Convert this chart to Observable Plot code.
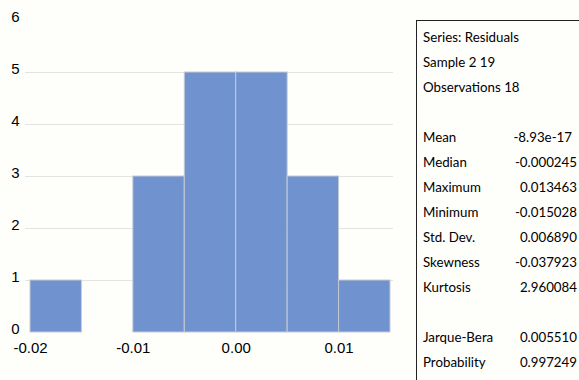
<!DOCTYPE html>
<html>
<head>
<meta charset="utf-8">
<script src="https://cdn.jsdelivr.net/npm/d3@7"></script>
<script src="https://cdn.jsdelivr.net/npm/@observablehq/plot@0.6"></script>
<style>
  html, body { margin: 0; padding: 0; background: #fefefb; overflow: hidden; }
  #wrap { position: relative; width: 579px; height: 380px; }
  #stats {
    position: absolute; left: 416px; top: 20px; width: 162px; height: 360px;
    border-left: 1px solid #222; border-top: 1px solid #222;
    padding-top: 4px; box-sizing: content-box;
    font-family: Lato, "Open Sans", sans-serif; font-size: 13.3px; color: #000;
  }
  .row { height: 25px; line-height: 25px; display: flex; padding-left: 6px; padding-right: 2px; }
  .row .lab { flex: 1; }
  .row .val { text-align: right; }
</style>
</head>
<body>
<div id="wrap"><div id="chart"></div><div id="stats"></div></div>
<script>
// Histogram bins (left edges, right edges) and counts
const binStart = [-0.02, -0.015, -0.01, -0.005, 0, 0.005, 0.01];
const binEnd   = [-0.015, -0.01, -0.005, 0, 0.005, 0.01, 0.015];
const counts   = [1, 0, 3, 5, 5, 3, 1];
const xTicks = [-0.02, -0.01, 0, 0.01];
const yTicks = [0, 1, 2, 3, 4, 5, 6];

// Statistics panel
const headerLines = ["Series: Residuals", "Sample 2 19", "Observations 18"];
const statLabels1 = ["Mean", "Median", "Maximum", "Minimum", "Std. Dev.", "Skewness", "Kurtosis"];
const statValues1 = ["-8.93e-17", "-0.000245", "0.013463", "-0.015028", "0.006890", "-0.037923", "2.960084"];
const statLabels2 = ["Jarque-Bera", "Probability"];
const statValues2 = ["0.005510", "0.997249"];

const bars = binStart.map((s, i) => ({x1: s, x2: binEnd[i], y: counts[i]}));

const chart = Plot.plot({
  width: 579,
  height: 380,
  marginLeft: 30,
  marginRight: 189,
  marginTop: 20,
  marginBottom: 48,
  style: {background: "transparent", fontFamily: "'Liberation Sans', Arial, sans-serif", fontSize: "15px", color: "#000"},
  x: {domain: [-0.02, 0.015]},
  y: {domain: [0, 6]},
  marks: [
    Plot.ruleY(yTicks.filter(d => d > 0 && d < 6), {stroke: "#e3e3e0", strokeWidth: 1, insetLeft: -5, insetRight: -3}),
    Plot.rectY(bars.filter(d => d.y > 0), {x1: "x1", x2: "x2", y: "y", fill: "#7093d0", stroke: "#c5cad3", strokeWidth: 1}),
    Plot.axisY(yTicks, {tickSize: 0, tickPadding: 11, dy: -3, tickFormat: d => String(d), label: null, fill: "#000"}),
    Plot.axisX(xTicks, {tickSize: 0, tickPadding: 10, tickFormat: d => d.toFixed(2), label: null, fill: "#000"})
  ]
});
document.getElementById("chart").appendChild(chart);

const stats = document.getElementById("stats");
function addRow(lab, val, extra) {
  const r = document.createElement("div");
  r.className = "row";
  const a = document.createElement("span"); a.className = "lab"; a.textContent = lab || "";
  const b = document.createElement("span"); b.className = "val"; b.textContent = val || "";
  if (extra) b.style.paddingRight = extra;
  r.appendChild(a); r.appendChild(b);
  stats.appendChild(r);
}
headerLines.forEach(h => addRow(h, ""));
addRow("", "");
statLabels1.forEach((l, i) => addRow(l, statValues1[i], i === 0 ? "5px" : null));
addRow("", "");
statLabels2.forEach((l, i) => addRow(l, statValues2[i]));
</script>
</body>
</html>
